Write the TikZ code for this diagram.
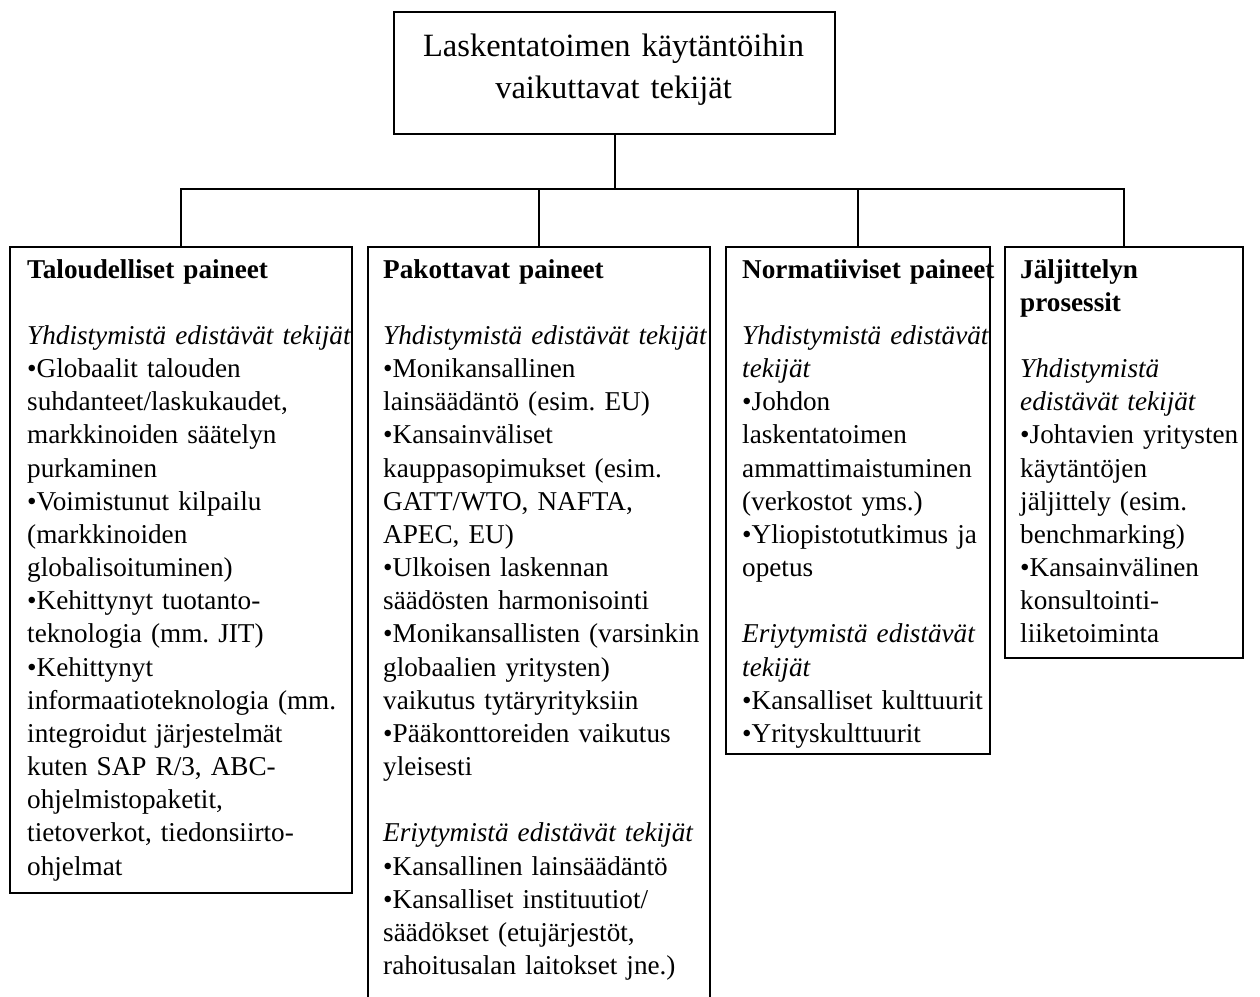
\documentclass[tikz,border=0pt]{standalone}
\usepackage{fontspec}
\setmainfont{Liberation Serif}
\frenchspacing
\begin{document}
\begin{tikzpicture}[x=1pt,y=-1pt,
  frame/.style={draw=black,line width=2.1pt,rectangle,anchor=north west,inner sep=0pt},
  body/.style={anchor=base west,inner sep=0pt,text width=420pt,align=left,
    font=\fontsize{27.2}{33.17}\selectfont},
  link/.style={draw=black,line width=2.1pt}]
\useasboundingbox (0,0) rectangle (1260,996);
\clip (0,0) rectangle (1260,996);

% top box
\node[frame,minimum width=441pt,minimum height=122pt] (top) at (393,11) {};
\node[anchor=base,inner sep=0pt,text width=440pt,align=center,
  font=\fontsize{32.5}{42}\selectfont] (toptext) at (613.5,56)
  {Laskentatoimen käytäntöihin\\vaikuttavat tekijät};

% four boxes
\node[frame,minimum width=342pt,minimum height=646pt] (b1) at (9,246) {};
\node[frame,minimum width=342pt,minimum height=780pt] (b2) at (367,246) {};
\node[frame,minimum width=264pt,minimum height=507pt] (b3) at (725,246) {};
\node[frame,minimum width=238pt,minimum height=411pt] (b4) at (1004,246) {};

\node[body] (t1) at (27,278) {%
\textbf{Taloudelliset paineet}\\[33.17pt]
\textit{Yhdistymistä edistävät tekijät}\\
•Globaalit talouden\\
suhdanteet/laskukaudet,\\
markkinoiden säätelyn\\
purkaminen\\
•Voimistunut kilpailu\\
(markkinoiden\\
globalisoituminen)\\
•Kehittynyt tuotanto-\\
teknologia (mm. JIT)\\
•Kehittynyt\\
informaatioteknologia (mm.\\
integroidut järjestelmät\\
kuten SAP R/3, ABC-\\
ohjelmistopaketit,\\
tietoverkot, tiedonsiirto-\\
ohjelmat};

\node[body] (t2) at (383,278) {%
\textbf{Pakottavat paineet}\\[33.17pt]
\textit{Yhdistymistä edistävät tekijät}\\
•Monikansallinen\\
lainsäädäntö (esim. EU)\\
•Kansainväliset\\
kauppasopimukset (esim.\\
GATT/WTO, NAFTA,\\
APEC, EU)\\
•Ulkoisen laskennan\\
säädösten harmonisointi\\
•Monikansallisten (varsinkin\\
globaalien yritysten)\\
vaikutus tytäryrityksiin\\
•Pääkonttoreiden vaikutus\\
yleisesti\\[33.17pt]
\textit{Eriytymistä edistävät tekijät}\\
•Kansallinen lainsäädäntö\\
•Kansalliset instituutiot/\\
säädökset (etujärjestöt,\\
rahoitusalan laitokset jne.)};

\node[body] (t3) at (742,278) {%
\textbf{Normatiiviset paineet}\\[33.17pt]
\textit{Yhdistymistä edistävät}\\
\textit{tekijät}\\
•Johdon\\
laskentatoimen\\
ammattimaistuminen\\
(verkostot yms.)\\
•Yliopistotutkimus ja\\
opetus\\[33.17pt]
\textit{Eriytymistä edistävät}\\
\textit{tekijät}\\
•Kansalliset kulttuurit\\
•Yrityskulttuurit};

\node[body] (t4) at (1020,278) {%
\textbf{Jäljittelyn}\\
\textbf{prosessit}\\[33.17pt]
\textit{Yhdistymistä}\\
\textit{edistävät tekijät}\\
•Johtavien yritysten\\
käytäntöjen\\
jäljittely (esim.\\
benchmarking)\\
•Kansainvälinen\\
konsultointi-\\
liiketoiminta};

% connectors
\coordinate (bar) at (0,189);
\path[link] (top.south) -- (top.south |- bar);
\path[link] (b1.north) -- (b1.north |- bar) -| (b4.north);
\path[link] (b2.north) -- (b2.north |- bar);
\path[link] (b3.north) -- (b3.north |- bar);
\end{tikzpicture}
\end{document}
